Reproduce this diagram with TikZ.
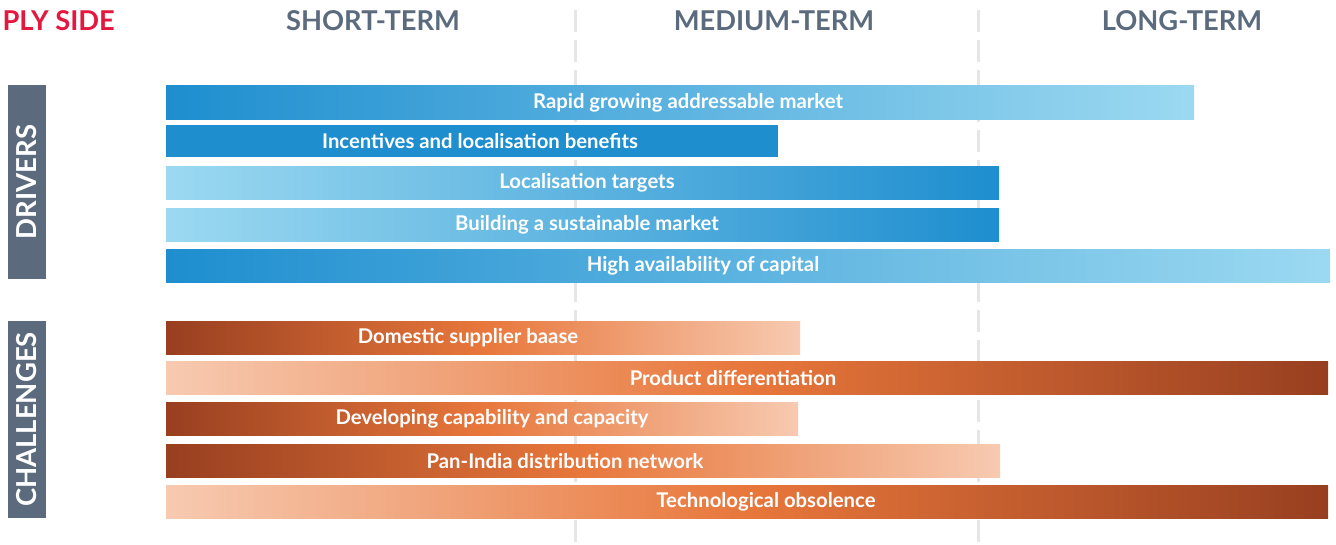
\documentclass[tikz,border=0pt]{standalone}
\usepackage{fontspec}
\setmainfont{Lato}
\usetikzlibrary{calc}
\definecolor{hdgray}{HTML}{5B6B7D}
\definecolor{sidered}{HTML}{E4173E}
\definecolor{bluedk}{HTML}{1E8ECF}
\definecolor{bluelt}{HTML}{9CD9F1}
\definecolor{orgdk}{HTML}{983F20}
\definecolor{orgmd}{HTML}{E8773B}
\definecolor{orglt}{HTML}{F7CAB1}
\definecolor{divgray}{HTML}{E6E6E6}

\begin{document}
\begin{tikzpicture}[x=1pt, y=-1pt,
	bartext/.style={text=white, font=\fontsize{20.3}{23}\selectfont\bfseries},
	headtext/.style={text=hdgray, font=\fontsize{27.3}{30}\selectfont\bfseries},
	sidetext/.style={text=white, rotate=90, font=\fontsize{27.5}{30}\selectfont\bfseries},
	orgfade/.style={left color=orgdk, right color=orglt, middle color=orgmd},
	orgrise/.style={left color=orglt, right color=orgdk, middle color=orgmd},
	divider/.style={divgray, line width=3pt, dash pattern=on 22pt off 8pt}]
	\useasboundingbox (0,0) rectangle (1336,544);
	% dividers between terms
	\coordinate (d1top) at (575,10);
	\coordinate (d1bot) at (575,544);
	\coordinate (d2top) at (978,10);
	\coordinate (d2bot) at (978,544);
	\draw [divider] (d1top) -- (d1bot);
	\draw [divider] (d2top) -- (d2bot);
	% headings
	\node [anchor=west, text=sidered, font=\fontsize{27.3}{30}\selectfont\bfseries] (side) at (-1,21) {PLY SIDE};
	\node [headtext] (short) at (373,21) {SHORT-TERM};
	\node [headtext] (medium) at (774,21) {MEDIUM-TERM};
	\node [headtext] (long) at (1182,21) {LONG-TERM};
	% side boxes
	\fill [hdgray] (8,85) rectangle (46,279);
	\node [sidetext] (drivers) at (27,182) {DRIVERS};
	\fill [hdgray] (8,321) rectangle (46,518);
	\node [sidetext] (challenges) at (27,419.5) {CHALLENGES};
	% drivers
	\shade [left color=bluedk, right color=bluelt] (166,85) rectangle (1194,119);
	\node [bartext] (rapid) at (688,102.5) {Rapid growing addressable market};
	\fill [bluedk] (166,125) rectangle (778,157);
	\node [bartext] (incent) at (480,141.5) {Incentives and localisation benefits};
	\shade [left color=bluelt, right color=bluedk] (166,166) rectangle (999,199);
	\node [bartext] (target) at (587,183) {Localisation targets};
	\shade [left color=bluelt, right color=bluedk] (166,208) rectangle (999,241);
	\node [bartext] (sustain) at (587,225) {Building a sustainable market};
	\shade [left color=bluedk, right color=bluelt] (166,249) rectangle (1330,282);
	\node [bartext] (capital) at (703,266) {High availability of capital};
	% challenges
	\shade [orgfade] (166,321) rectangle (800,354);
	\node [bartext] (supplier) at (468,338) {Domestic supplier baase};
	\shade [orgrise] (166,361) rectangle (1328,394);
	\node [bartext] (product) at (733,378) {Product differentiation};
	\shade [orgfade] (166,402) rectangle (798,435);
	\node [bartext] (capab) at (492,419) {Developing capability and capacity};
	\shade [orgfade] (166,444) rectangle (1000,477);
	\node [bartext] (panindia) at (565,461) {Pan-India distribution network};
	\shade [orgrise] (166,485) rectangle (1328,518);
	\node [bartext] (obsol) at (766,502) {Technological obsolence};
\end{tikzpicture}
\end{document}
